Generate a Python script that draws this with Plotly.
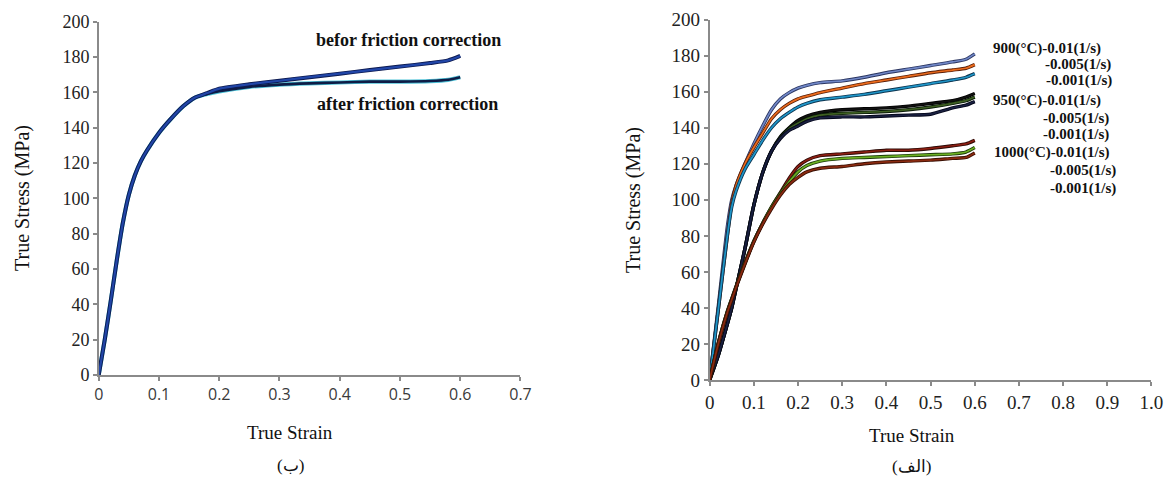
import plotly.graph_objects as go

W, H = 1167, 478

# ---------------- data: panel (ب) ----------------
strain_b = [0, 0.01, 0.02, 0.03, 0.04, 0.05, 0.06, 0.07, 0.08, 0.10, 0.12, 0.14, 0.16, 0.18,
            0.20, 0.25, 0.30, 0.35, 0.40, 0.45, 0.50, 0.55, 0.58, 0.60]
before_friction = [0, 20, 42, 65, 86, 102, 113, 121, 127, 137, 145, 152, 157, 159.5,
                   162, 164.5, 166.5, 168.5, 170.5, 172.5, 174.5, 176.5, 178, 180.5]
after_friction = [0, 20, 42, 65, 86, 102, 113, 121, 127, 137, 145, 152, 157, 159,
                  160.5, 163, 164.3, 165, 165.5, 166, 166, 166.3, 167, 168.5]
xticks_b = [0, 0.1, 0.2, 0.3, 0.4, 0.5, 0.6, 0.7]
xticklabels_b = ["0", "0.1", "0.2", "0.3", "0.4", "0.5", "0.6", "0.7"]
yticks = [0, 20, 40, 60, 80, 100, 120, 140, 160, 180, 200]

# ---------------- data: panel (الف) ----------------
strain_a = [0, 0.02, 0.04, 0.05, 0.06, 0.08, 0.10, 0.12, 0.14, 0.16, 0.18, 0.20, 0.22,
            0.25, 0.30, 0.35, 0.40, 0.45, 0.50, 0.55, 0.58, 0.60]
s900_001 = [0, 42, 85, 100, 108, 120, 131, 141, 150, 156, 159.5, 162, 163.5,
            165, 166, 168, 170.5, 172.5, 174.5, 176.5, 178, 181]
s900_0005 = [0, 40, 80, 98, 108, 120, 129, 137, 145, 150, 153.5, 156, 157.5,
             159.5, 162, 164.5, 166.5, 168.5, 170.5, 172, 173, 175]
s900_0001 = [0, 40, 80, 96, 105, 117, 125, 133, 140, 145, 148.5, 151.5, 153.5,
             155.5, 157, 158.5, 160.5, 162.5, 164.5, 166.5, 168, 170]
s950_001 = [0, 14, 31, 40, 51, 73, 97, 115, 127, 135, 140, 144, 146.5,
            148.5, 150, 150.5, 151, 152, 153.5, 155, 157, 159]
s950_0005 = [0, 14, 31, 40, 51, 73, 97, 115, 127, 134.5, 139.5, 142.5, 145,
             147, 148, 148.5, 149, 150, 151.5, 153.5, 155, 157]
s950_0001 = [0, 14, 31, 40, 51, 73, 97, 115, 127, 134, 138.5, 141, 143.5,
             145.5, 146, 146, 146.5, 147, 147.5, 151, 152.5, 154.5]
s1000_001 = [0, 21, 38, 45, 52, 65, 77, 87, 96, 104, 112, 118.5, 122,
             124.5, 125.5, 126.5, 127.5, 127.5, 128.5, 130, 131, 133]
s1000_0005 = [0, 21, 38, 45, 52, 65, 77, 87, 96, 103.5, 110, 115.5, 119,
              121.5, 123, 123.5, 124, 124.5, 125, 125.5, 126.5, 129]
s1000_0001 = [0, 20.5, 37.5, 44.5, 51.5, 64.5, 76.5, 86.5, 95, 102.5, 108.5, 112.5, 115.5,
              117.5, 118.5, 120, 121, 121.5, 122, 123, 123.5, 126]
xticks_a = [0, 0.1, 0.2, 0.3, 0.4, 0.5, 0.6, 0.7, 0.8, 0.9, 1.0]
xticklabels_a = ["0", "0.1", "0.2", "0.3", "0.4", "0.5", "0.6", "0.7", "0.8", "0.9", "1.0"]

series_a = [
    (s900_001, "#6f86c6", "#2a3560"),
    (s900_0005, "#ea6a1c", "#5a200a"),
    (s900_0001, "#1f95c8", "#0c3550"),
    (s950_001, "#111111", "#000000"),
    (s950_0005, "#3e5f22", "#0a1a08"),
    (s950_0001, "#1a2040", "#05071a"),
    (s1000_001, "#8a1e12", "#2a0804"),
    (s1000_0005, "#6cb024", "#1c3a08"),
    (s1000_0001, "#8a2a10", "#3a1004"),
]

fig = go.Figure()

# panel (ب) curves, with dark outline effect
fig.add_trace(go.Scatter(x=strain_b, y=after_friction, mode="lines", xaxis="x", yaxis="y",
                         line=dict(color="#4ec3d8", width=4.2, shape="spline", smoothing=0.6),
                         showlegend=False, hoverinfo="skip"))
fig.add_trace(go.Scatter(x=strain_b, y=after_friction, mode="lines", xaxis="x", yaxis="y",
                         line=dict(color="#0e1c46", width=2.6, shape="spline", smoothing=0.6),
                         showlegend=False))
fig.add_trace(go.Scatter(x=strain_b, y=before_friction, mode="lines", xaxis="x", yaxis="y",
                         line=dict(color="#0c1a50", width=4.0, shape="spline", smoothing=0.6),
                         showlegend=False, hoverinfo="skip"))
fig.add_trace(go.Scatter(x=strain_b, y=before_friction, mode="lines", xaxis="x", yaxis="y",
                         line=dict(color="#2146a8", width=2.2, shape="spline", smoothing=0.6),
                         showlegend=False))

# panel (الف) curves
for vals, col, edge in series_a:
    fig.add_trace(go.Scatter(x=strain_a, y=vals, mode="lines", xaxis="x2", yaxis="y2",
                             line=dict(color=edge, width=3.4, shape="spline", smoothing=0.6),
                             showlegend=False, hoverinfo="skip"))
    fig.add_trace(go.Scatter(x=strain_a, y=vals, mode="lines", xaxis="x2", yaxis="y2",
                             line=dict(color=col, width=1.7, shape="spline", smoothing=0.6),
                             showlegend=False))

axis_common = dict(showgrid=False, zeroline=False, showline=True, linecolor="#8a8a8a",
                   linewidth=1.5, ticks="outside", ticklen=4, tickcolor="#8a8a8a", tickwidth=1.5,
                   automargin=False)

serif = "Liberation Serif"

fig.update_layout(
    width=W, height=H,
    margin=dict(l=0, r=0, t=0, b=0, pad=0, autoexpand=False),
    paper_bgcolor="white", plot_bgcolor="white",
    xaxis=dict(domain=[0.0846, 0.4460], range=[0, 0.7], tickvals=xticks_b, ticktext=xticklabels_b,
               tickfont=dict(family="Open Sans", size=16, color="#3a3a3a"), anchor="y", **axis_common),
    yaxis=dict(domain=[0.2155, 0.955], range=[0, 200], tickvals=yticks,
               tickfont=dict(family=serif, size=18, color="#222"), anchor="x", **axis_common),
    xaxis2=dict(domain=[0.6081, 0.9867], range=[0, 1.0], tickvals=xticks_a, ticktext=xticklabels_a,
                tickfont=dict(family=serif, size=19, color="#222"), anchor="y2", **axis_common),
    yaxis2=dict(domain=[0.205, 0.959], range=[0, 200], tickvals=yticks,
                tickfont=dict(family=serif, size=19, color="#222"), anchor="x2", **axis_common),
)

def px_ann(text, x, y, size, bold=False, angle=0, xanchor="center", family=serif, color="#111"):
    t = f"<b>{text}</b>" if bold else text
    fig.add_annotation(text=t, x=x / W, y=1 - y / H, xref="paper", yref="paper",
                       xanchor=xanchor, yanchor="middle", showarrow=False, textangle=angle,
                       font=dict(family=family, size=size, color=color))

# axis titles
px_ann("True Stress (MPa)", 22, 198, 20, angle=-90)
px_ann("True Stress (MPa)", 633, 200, 20, angle=-90)
px_ann("True Strain", 290, 432, 19)
px_ann("True Strain", 912, 435, 19)

# captions
px_ann("(ب)", 290, 465, 17)
px_ann("(الف)", 912, 466, 17)

# curve labels panel (ب)
px_ann("befor friction correction", 314, 40, 18, bold=True, xanchor="left")
px_ann("after friction correction", 315, 104, 18, bold=True, xanchor="left")

# curve labels panel (الف)
labels_a = [
    ("900(°C)-0.01(1/s)", 991, 48),
    ("-0.005(1/s)", 1043, 64),
    ("-0.001(1/s)", 1044, 81),
    ("950(°C)-0.01(1/s)", 991, 101),
    ("-0.005(1/s)", 1041, 118),
    ("-0.001(1/s)", 1041, 134),
    ("1000(°C)-0.01(1/s)", 992, 153),
    ("-0.005(1/s)", 1048, 170),
    ("-0.001(1/s)", 1048, 188),
]
for txt, x, y in labels_a:
    px_ann(txt, x, y, 15, bold=True, xanchor="left")

fig.write_html(
    "out.html",
    config={"displayModeBar": False},
    post_script="document.body.style.margin='0';document.body.style.overflow='hidden';",
)
